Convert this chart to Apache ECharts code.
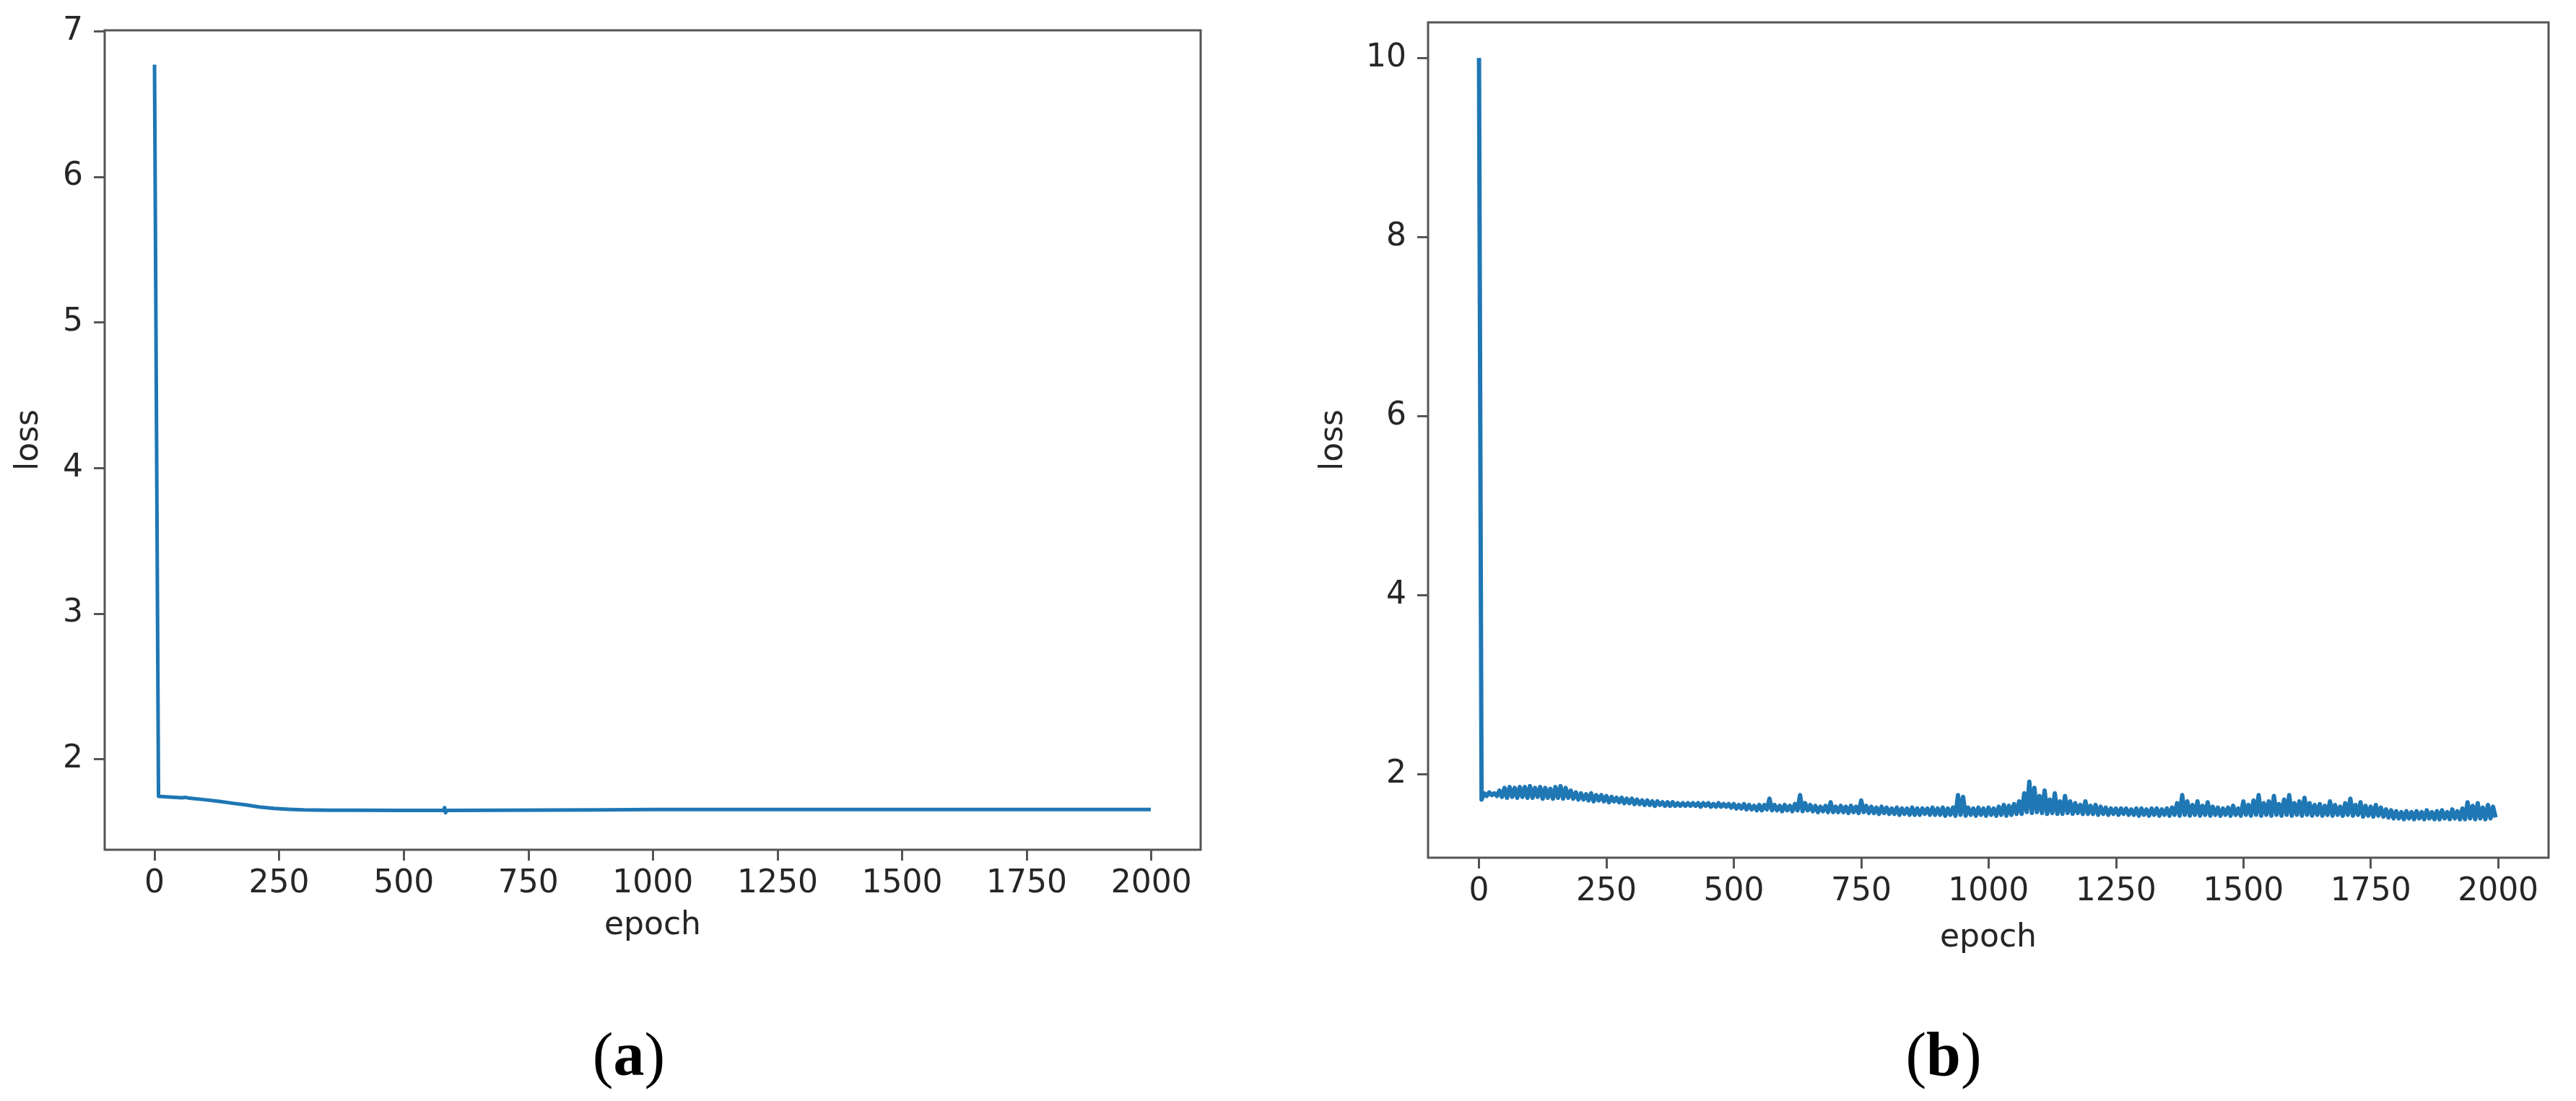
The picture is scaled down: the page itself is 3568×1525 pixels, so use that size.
<!DOCTYPE html>
<html>
<head>
<meta charset="utf-8">
<title>loss curves</title>
<script src="https://cdn.jsdelivr.net/npm/echarts@6/dist/echarts.min.js"></script>
<style>
html, body { margin: 0; padding: 0; background: #fff; }
#main { width: 3568px; height: 1525px; }
</style>
</head>
<body>
<div id="main"></div>
<script>
// (a) smooth loss curve, read at irregular epochs
const epochsA = [0, 8, 30, 55, 62, 70, 100, 130, 160, 185, 210, 240, 270, 300, 350, 400, 500, 580, 582, 584, 586, 700, 800, 900, 1000, 1100, 1200, 1400, 1600, 1800, 1999];
const lossA = [6.77, 1.745, 1.74, 1.735, 1.738, 1.732, 1.722, 1.71, 1.696, 1.685, 1.672, 1.662, 1.656, 1.652, 1.65, 1.649, 1.648, 1.648, 1.668, 1.632, 1.648, 1.649, 1.651, 1.652, 1.654, 1.655, 1.655, 1.655, 1.655, 1.655, 1.655];

// (b) noisy loss curve, one value every 5 epochs (rows of 100 epochs)
const stepB = 5;
const lossB = [
  10.0, 1.72, 1.79, 1.76, 1.80, 1.77, 1.79, 1.76, 1.82, 1.75, 1.85, 1.74, 1.86, 1.75, 1.85, 1.74, 1.86, 1.75, 1.86, 1.74,
  1.87, 1.74, 1.85, 1.75, 1.86, 1.73, 1.85, 1.74, 1.84, 1.73, 1.86, 1.74, 1.87, 1.73, 1.85, 1.74, 1.82, 1.73, 1.80, 1.72,
  1.79, 1.72, 1.78, 1.71, 1.79, 1.70, 1.77, 1.71, 1.77, 1.70, 1.76, 1.69, 1.75, 1.70, 1.74, 1.69, 1.74, 1.68, 1.73, 1.68,
  1.73, 1.67, 1.72, 1.67, 1.71, 1.66, 1.71, 1.66, 1.70, 1.65, 1.70, 1.66, 1.69, 1.65, 1.69, 1.65, 1.69, 1.65, 1.68, 1.65,
  1.68, 1.65, 1.68, 1.65, 1.68, 1.65, 1.68, 1.64, 1.68, 1.65, 1.68, 1.64, 1.67, 1.64, 1.68, 1.64, 1.67, 1.64, 1.67, 1.63,
  1.67, 1.62, 1.66, 1.62, 1.67, 1.61, 1.66, 1.61, 1.65, 1.60, 1.66, 1.60, 1.66, 1.61, 1.73, 1.60, 1.66, 1.60, 1.65, 1.59,
  1.66, 1.60, 1.65, 1.59, 1.67, 1.60, 1.77, 1.59, 1.68, 1.60, 1.66, 1.59, 1.65, 1.58, 1.64, 1.59, 1.65, 1.58, 1.69, 1.58,
  1.64, 1.58, 1.65, 1.58, 1.64, 1.57, 1.65, 1.58, 1.64, 1.57, 1.71, 1.58, 1.65, 1.57, 1.64, 1.57, 1.63, 1.56, 1.64, 1.57,
  1.63, 1.56, 1.62, 1.56, 1.63, 1.55, 1.62, 1.56, 1.62, 1.55, 1.63, 1.55, 1.62, 1.55, 1.62, 1.56, 1.62, 1.55, 1.63, 1.55,
  1.62, 1.55, 1.63, 1.54, 1.62, 1.55, 1.63, 1.54, 1.77, 1.55, 1.75, 1.54, 1.63, 1.55, 1.62, 1.54, 1.63, 1.55, 1.62, 1.54,
  1.63, 1.55, 1.62, 1.54, 1.64, 1.55, 1.66, 1.54, 1.65, 1.55, 1.67, 1.56, 1.70, 1.56, 1.79, 1.58, 1.92, 1.57, 1.85, 1.58,
  1.76, 1.57, 1.82, 1.56, 1.72, 1.57, 1.79, 1.56, 1.70, 1.56, 1.76, 1.57, 1.70, 1.56, 1.68, 1.57, 1.66, 1.56, 1.70, 1.56,
  1.65, 1.56, 1.66, 1.55, 1.64, 1.56, 1.63, 1.55, 1.62, 1.56, 1.62, 1.55, 1.62, 1.56, 1.62, 1.55, 1.61, 1.55, 1.62, 1.54,
  1.62, 1.55, 1.61, 1.54, 1.62, 1.55, 1.62, 1.54, 1.61, 1.55, 1.62, 1.54, 1.63, 1.55, 1.68, 1.54, 1.77, 1.55, 1.70, 1.54,
  1.66, 1.55, 1.70, 1.54, 1.65, 1.55, 1.69, 1.54, 1.64, 1.55, 1.63, 1.54, 1.62, 1.55, 1.63, 1.54, 1.65, 1.55, 1.62, 1.54,
  1.70, 1.55, 1.66, 1.54, 1.71, 1.55, 1.77, 1.54, 1.68, 1.55, 1.70, 1.54, 1.76, 1.55, 1.67, 1.54, 1.72, 1.55, 1.77, 1.54,
  1.68, 1.55, 1.70, 1.54, 1.74, 1.55, 1.68, 1.54, 1.66, 1.55, 1.67, 1.54, 1.65, 1.55, 1.70, 1.54, 1.66, 1.55, 1.64, 1.54,
  1.68, 1.55, 1.73, 1.54, 1.66, 1.55, 1.69, 1.53, 1.65, 1.54, 1.64, 1.53, 1.66, 1.54, 1.63, 1.53, 1.61, 1.52, 1.60, 1.51,
  1.59, 1.51, 1.58, 1.50, 1.59, 1.51, 1.58, 1.50, 1.59, 1.51, 1.58, 1.50, 1.60, 1.51, 1.58, 1.50, 1.59, 1.50, 1.60, 1.51,
  1.58, 1.50, 1.61, 1.51, 1.59, 1.50, 1.62, 1.50, 1.69, 1.51, 1.65, 1.50, 1.68, 1.51, 1.63, 1.50, 1.66, 1.51, 1.64, 1.52
];

const xTicks = [0, 250, 500, 750, 1000, 1250, 1500, 1750, 2000];
const yTicksA = [2, 3, 4, 5, 6, 7];
const yTicksB = [2, 4, 6, 8, 10];
const captions = ['a', 'b'];

const lineColor = '#1f77b4';
const frameColor = '#555';
const textColor = '#262626';
const font = 'DejaVu Sans';

function xAxis(idx, gap) {
    return {
        type: 'value', gridIndex: idx,
        min: -100, max: 2099,
        name: 'epoch', nameLocation: 'middle', nameGap: gap,
        nameTextStyle: { fontFamily: font, fontSize: 44, color: textColor },
        axisLine: { show: false, onZero: false },
        splitLine: { show: false },
        axisTick: { show: true, inside: false, length: 15, customValues: xTicks, lineStyle: { color: frameColor, width: 3 } },
        axisLabel: { customValues: xTicks, margin: 26, fontFamily: font, fontSize: 44, color: textColor, formatter: v => String(v) }
    };
}
function yAxis(idx, min, max, ticks, gap) {
    return {
        type: 'value', gridIndex: idx,
        min: min, max: max,
        name: 'loss', nameLocation: 'middle', nameRotate: 90, nameGap: gap,
        nameTextStyle: { fontFamily: font, fontSize: 44, color: textColor },
        axisLine: { show: false, onZero: false },
        splitLine: { show: false },
        axisTick: { show: true, inside: false, length: 15, customValues: ticks, lineStyle: { color: frameColor, width: 3 } },
        axisLabel: { customValues: ticks, margin: 30, fontFamily: font, fontSize: 44, color: textColor, formatter: v => String(v) }
    };
}

const dataA = epochsA.map((e, i) => [e, lossA[i]]);
const dataB = lossB.map((v, i) => [i * stepB, v]);

const chart = echarts.init(document.getElementById('main'), null, { renderer: 'canvas' });
chart.setOption({
    animation: false,
    backgroundColor: '#fff',
    grid: [
        { left: 145, top: 42, width: 1518, height: 1135, show: true, borderColor: frameColor, borderWidth: 3, backgroundColor: 'transparent' },
        { left: 1978, top: 31, width: 1552, height: 1157, show: true, borderColor: frameColor, borderWidth: 3, backgroundColor: 'transparent' }
    ],
    xAxis: [xAxis(0, 84), xAxis(1, 90)],
    yAxis: [
        yAxis(0, 1.378, 7.006, yTicksA, 82),
        yAxis(1, 1.071, 10.397, yTicksB, 108)
    ],
    series: [
        {
            type: 'line', xAxisIndex: 0, yAxisIndex: 0, data: dataA,
            showSymbol: false, lineStyle: { color: lineColor, width: 5, join: 'round' }
        },
        {
            type: 'line', xAxisIndex: 1, yAxisIndex: 1, data: dataB,
            showSymbol: false, lineStyle: { color: lineColor, width: 6, join: 'round' }
        }
    ],
    graphic: [
        {
            type: 'text', x: 871, y: 1467,
            style: {
                text: '({b|' + captions[0] + '})', fontFamily: 'Liberation Serif', fontSize: 86, fill: '#000',
                align: 'center', verticalAlign: 'middle',
                rich: { b: { fontFamily: 'Liberation Serif', fontSize: 86, fontWeight: 'bold', fill: '#000' } }
            }
        },
        {
            type: 'text', x: 2692, y: 1467,
            style: {
                text: '({b|' + captions[1] + '})', fontFamily: 'Liberation Serif', fontSize: 86, fill: '#000',
                align: 'center', verticalAlign: 'middle',
                rich: { b: { fontFamily: 'Liberation Serif', fontSize: 86, fontWeight: 'bold', fill: '#000' } }
            }
        }
    ]
});
</script>
</body>
</html>
